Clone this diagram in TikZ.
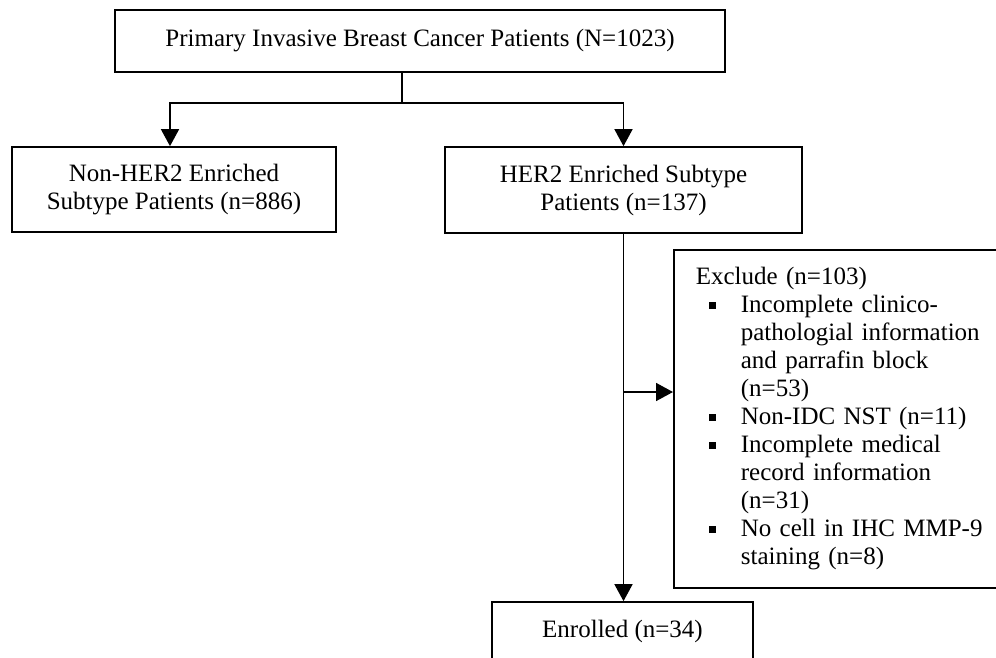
\documentclass[tikz,border=0pt]{standalone}
\usepackage{fontspec}
\setmainfont{Liberation Serif}
\usetikzlibrary{arrows.meta}
\newcommand\bulmark{\makebox[45pt][l]{\hspace{13.5pt}\raisebox{4pt}{\rule{7pt}{7pt}}}}
\newcommand\contind{\hspace*{45pt}}
\begin{document}
\begin{tikzpicture}[x=1pt,y=-1pt,
  box/.style={draw=black, line width=1.7pt, inner sep=0pt, align=center,
    font=\fontsize{25}{28}\selectfont},
  arr/.style={line width=1.6pt, -{Triangle[width=18pt,length=17pt]}},
  link/.style={line width=1.6pt}]
\useasboundingbox (0,0) rectangle (996,657);
\clip (0,0) rectangle (996,657);
\fill[white] (0,0) rectangle (996,657);

\node[box, minimum width=610pt, minimum height=62pt] (top) at (420,41)
  {Primary Invasive Breast Cancer Patients (N=1023)};
\node[box, minimum width=324pt, minimum height=85pt] (nonher) at (174,189.5)
  {Non-HER2 Enriched\\Subtype Patients (n=886)};
\node[box, minimum width=357pt, minimum height=86pt] (her) at (623.5,190)
  {HER2 Enriched Subtype\\Patients (n=137)};
\node[box, anchor=north west, text width=300pt, inner xsep=22pt,
  minimum height=338pt, align=left] (excl) at (673,249)
  {Exclude (n=103)\\
   \bulmark Incomplete clinico-\\
   \contind pathologial information\\
   \contind and parrafin block\\
   \contind (n=53)\\
   \bulmark Non-IDC NST (n=11)\\
   \bulmark Incomplete medical\\
   \contind record information\\
   \contind (n=31)\\
   \bulmark No cell in IHC MMP-9\\
   \contind staining (n=8)};
\node[box, minimum width=261pt, minimum height=58pt] (enr) at (622.5,631)
  {Enrolled (n=34)};

\coordinate (split) at (402,103);
\coordinate (lft) at (170,103);
\coordinate (rgt) at (her.north |- split);
\coordinate (mid) at (her.south |- 0,392);

\draw[link] (top.south -| split) -- (split);
\draw[arr] (split) -- (lft) -- (lft |- nonher.north);
\draw[arr] (split) -- (rgt) -- (her.north);
\draw[arr] (her.south) -- (her.south |- enr.north);
\draw[arr] (mid) -- (mid -| excl.west);
\end{tikzpicture}
\end{document}
